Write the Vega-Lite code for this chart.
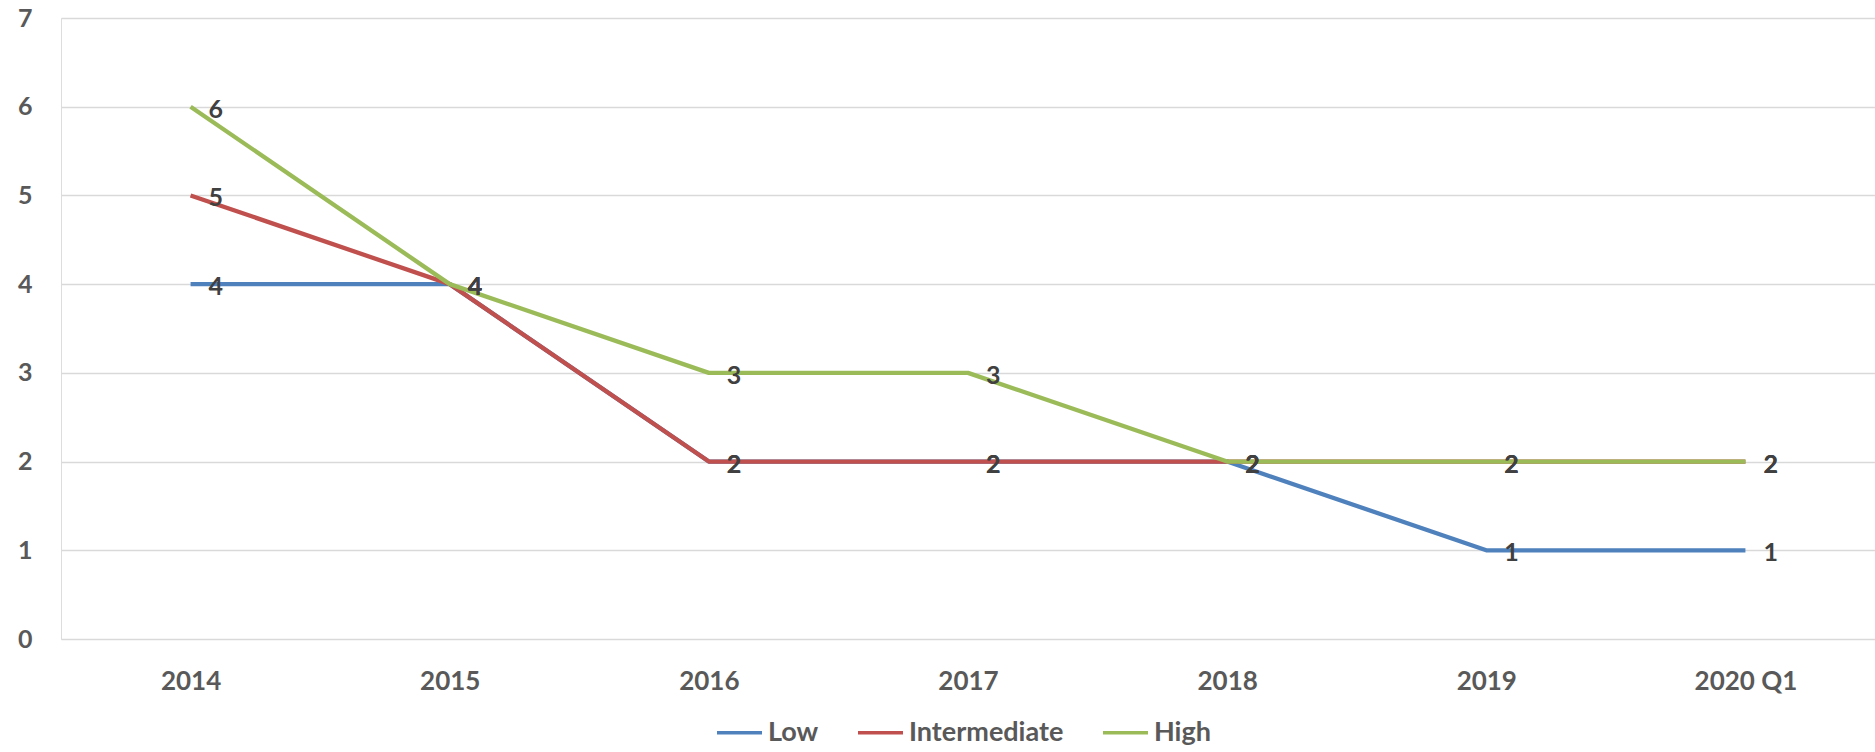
{
  "$schema": "https://vega.github.io/schema/vega-lite/v6.json",
  "autosize": "none",
  "width": 1814,
  "height": 621,
  "padding": {"left": 61, "top": 18, "right": 0, "bottom": 113},
  "background": "white",
  "data": {
    "values": [
      {"period": "2014", "risk": "Low", "count": 4},
      {"period": "2015", "risk": "Low", "count": 4},
      {"period": "2016", "risk": "Low", "count": 2},
      {"period": "2017", "risk": "Low", "count": 2},
      {"period": "2018", "risk": "Low", "count": 2},
      {"period": "2019", "risk": "Low", "count": 1},
      {"period": "2020 Q1", "risk": "Low", "count": 1},
      {"period": "2014", "risk": "Intermediate", "count": 5},
      {"period": "2015", "risk": "Intermediate", "count": 4},
      {"period": "2016", "risk": "Intermediate", "count": 2},
      {"period": "2017", "risk": "Intermediate", "count": 2},
      {"period": "2018", "risk": "Intermediate", "count": 2},
      {"period": "2019", "risk": "Intermediate", "count": 2},
      {"period": "2020 Q1", "risk": "Intermediate", "count": 2},
      {"period": "2014", "risk": "High", "count": 6},
      {"period": "2015", "risk": "High", "count": 4},
      {"period": "2016", "risk": "High", "count": 3},
      {"period": "2017", "risk": "High", "count": 3},
      {"period": "2018", "risk": "High", "count": 2},
      {"period": "2019", "risk": "High", "count": 2},
      {"period": "2020 Q1", "risk": "High", "count": 2}
    ]
  },
  "encoding": {
    "x": {
      "field": "period",
      "type": "ordinal",
      "sort": null,
      "scale": {"type": "point", "padding": 0.5},
      "axis": {
        "title": null,
        "labelAngle": 0,
        "ticks": false,
        "domain": false,
        "grid": false,
        "labelPadding": 29,
        "labelFont": "Lato",
        "labelFontWeight": "bold",
        "labelFontSize": 26,
        "labelColor": "#595959"
      }
    },
    "y": {
      "field": "count",
      "type": "quantitative",
      "scale": {"domain": [0, 7], "nice": false},
      "axis": {
        "title": null,
        "values": [0, 1, 2, 3, 4, 5, 6, 7],
        "ticks": false,
        "domain": false,
        "grid": true,
        "gridColor": "#d9d9d9",
        "gridWidth": 1.5,
        "labelPadding": 29,
        "labelFont": "Lato",
        "labelFontWeight": "bold",
        "labelFontSize": 25,
        "labelColor": "#595959"
      }
    }
  },
  "layer": [
    {
      "mark": {"type": "line", "strokeWidth": 4.3, "strokeJoin": "round"},
      "encoding": {
        "color": {
          "field": "risk",
          "type": "nominal",
          "scale": {
            "domain": ["Low", "Intermediate", "High"],
            "range": ["#4F81BD", "#C0504D", "#9BBB59"]
          },
          "legend": {
            "title": null,
            "orient": "none",
            "direction": "horizontal",
            "legendX": 654,
            "legendY": 690,
            "symbolType": "stroke",
            "symbolSize": 2025,
            "symbolStrokeWidth": 3.5,
            "labelFont": "Lato",
            "labelFontWeight": "bold",
            "labelFontSize": 27,
            "labelColor": "#595959",
            "labelOffset": 4,
            "columnPadding": 32
          }
        }
      }
    },
    {
      "mark": {
        "type": "text",
        "align": "left",
        "baseline": "middle",
        "dx": 18,
        "dy": 3,
        "font": "Lato",
        "fontWeight": "bold",
        "fontSize": 25,
        "color": "#404040"
      },
      "encoding": {
        "text": {"field": "count", "type": "quantitative"}
      }
    }
  ]
}
